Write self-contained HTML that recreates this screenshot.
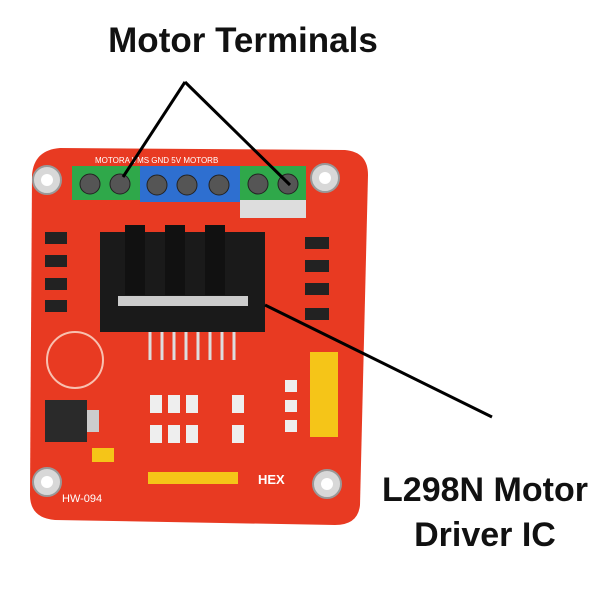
<!DOCTYPE html>
<html><head><style>
body{margin:0;background:#fff;width:600px;height:600px;overflow:hidden;font-family:"Liberation Sans",sans-serif}
</style></head><body>
<svg width="600" height="600" viewBox="0 0 600 600" xmlns="http://www.w3.org/2000/svg">
<rect width="600" height="600" fill="#fff"/>
<path d="M60 148 L345 150 Q368 152 368 175 L360 505 Q358 525 335 525 L55 520 Q30 518 30 495 L32 175 Q34 150 60 148 Z" fill="#e83a22"/>
<g fill="#d8d8d8" stroke="#999" stroke-width="2">
<circle cx="47" cy="180" r="14"/><circle cx="325" cy="178" r="14"/>
<circle cx="47" cy="482" r="14"/><circle cx="327" cy="484" r="14"/></g>
<g fill="#fff"><circle cx="47" cy="180" r="6"/><circle cx="325" cy="178" r="6"/><circle cx="47" cy="482" r="6"/><circle cx="327" cy="484" r="6"/></g>
<rect x="72" y="166" width="68" height="34" fill="#2fa84a"/>
<rect x="140" y="166" width="100" height="36" fill="#2e6fd0"/>
<rect x="240" y="166" width="66" height="34" fill="#2fa84a"/>
<rect x="240" y="200" width="66" height="18" fill="#ddd"/>
<g fill="#555" stroke="#222"><circle cx="90" cy="184" r="10"/><circle cx="120" cy="184" r="10"/><circle cx="157" cy="185" r="10"/><circle cx="187" cy="185" r="10"/><circle cx="219" cy="185" r="10"/><circle cx="258" cy="184" r="10"/><circle cx="288" cy="184" r="10"/></g>
<text x="95" y="163" font-size="8" fill="#fff">MOTORA  VMS GND 5V   MOTORB</text>
<rect x="100" y="232" width="165" height="100" fill="#1a1a1a"/>
<rect x="125" y="225" width="20" height="70" fill="#111"/>
<rect x="165" y="225" width="20" height="70" fill="#111"/>
<rect x="205" y="225" width="20" height="70" fill="#111"/>
<rect x="118" y="296" width="130" height="10" fill="#ccc"/>
<g stroke="#ddd" stroke-width="3"><line x1="150" y1="332" x2="150" y2="360"/><line x1="162" y1="332" x2="162" y2="360"/><line x1="174" y1="332" x2="174" y2="360"/><line x1="186" y1="332" x2="186" y2="360"/><line x1="198" y1="332" x2="198" y2="360"/><line x1="210" y1="332" x2="210" y2="360"/><line x1="222" y1="332" x2="222" y2="360"/><line x1="234" y1="332" x2="234" y2="360"/></g>
<g fill="#222"><rect x="45" y="232" width="22" height="12"/><rect x="45" y="255" width="22" height="12"/><rect x="45" y="278" width="22" height="12"/><rect x="45" y="300" width="22" height="12"/>
<rect x="305" y="237" width="24" height="12"/><rect x="305" y="260" width="24" height="12"/><rect x="305" y="283" width="24" height="12"/><rect x="305" y="308" width="24" height="12"/></g>
<circle cx="75" cy="360" r="28" fill="none" stroke="#f8c0b0" stroke-width="2"/>
<rect x="45" y="400" width="42" height="42" fill="#2a2a2a"/>
<rect x="87" y="410" width="12" height="22" fill="#ccc"/>
<rect x="310" y="352" width="28" height="85" fill="#f5c518"/>
<rect x="92" y="448" width="22" height="14" fill="#f5c518"/>
<rect x="148" y="472" width="90" height="12" fill="#f5c518"/>
<g fill="#eee"><rect x="150" y="395" width="12" height="18"/><rect x="168" y="395" width="12" height="18"/><rect x="186" y="395" width="12" height="18"/><rect x="150" y="425" width="12" height="18"/><rect x="168" y="425" width="12" height="18"/><rect x="186" y="425" width="12" height="18"/><rect x="232" y="395" width="12" height="18"/><rect x="232" y="425" width="12" height="18"/><rect x="285" y="380" width="12" height="12"/><rect x="285" y="400" width="12" height="12"/><rect x="285" y="420" width="12" height="12"/></g>
<text x="258" y="484" font-size="13" font-weight="bold" fill="#fff">HEX</text>
<text x="62" y="502" font-size="11" fill="#fff">HW-094</text>
<text x="243" y="52" font-size="35" font-weight="bold" text-anchor="middle" fill="#111">Motor Terminals</text>
<g stroke="#000" stroke-width="3"><line x1="185" y1="82" x2="123" y2="177"/><line x1="185" y1="82" x2="290" y2="185"/><line x1="265" y1="305" x2="492" y2="417"/></g>
<text x="485" y="501" font-size="34" font-weight="bold" text-anchor="middle" fill="#111">L298N Motor</text>
<text x="485" y="546" font-size="34" font-weight="bold" text-anchor="middle" fill="#111">Driver IC</text>
</svg>
</body></html>
